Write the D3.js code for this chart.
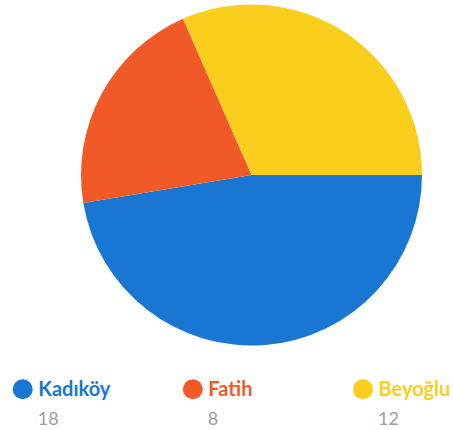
<!DOCTYPE html>
<html>
<head>
<meta charset="utf-8">
<script src="https://cdn.jsdelivr.net/npm/d3@7"></script>
<style>
  body { margin: 0; background: #fff; }
  svg { display: block; font-family: Lato, "Open Sans", sans-serif; }
</style>
</head>
<body>
<div id="chart"></div>
<script>
// data
var districts = ["Kadıköy", "Fatih", "Beyoğlu"];
var counts = [18, 8, 12];
var colors = ["#1976D2", "#F15A27", "#F9CE1D"];

var width = 453, height = 430;
var cx = 251.5, cy = 175, radius = 170.5;

var svg = d3.select("#chart")
  .append("svg")
    .attr("width", width)
    .attr("height", height);

var color = d3.scaleOrdinal()
  .domain(districts)
  .range(colors);

// slices start at 3 o'clock and go clockwise
var pie = d3.pie()
  .sort(null)
  .value(function(d) { return d.value; })
  .startAngle(Math.PI / 2)
  .endAngle(Math.PI / 2 + 2 * Math.PI);

var data = districts.map(function(name, i) { return {key: name, value: counts[i]}; });
var data_ready = pie(data);

var g = svg.append("g")
  .attr("transform", "translate(" + cx + "," + cy + ")");

g.selectAll("path")
  .data(data_ready)
  .enter()
  .append("path")
  .attr("d", d3.arc().innerRadius(0).outerRadius(radius))
  .attr("fill", function(d) { return color(d.data.key); });

// legend
var legendX = d3.scalePoint()
  .domain(districts)
  .range([22.7, 363])
  ;

var item = svg.selectAll(".legend")
  .data(data)
  .enter()
  .append("g")
  .attr("class", "legend")
  .attr("transform", function(d) { return "translate(" + legendX(d.key) + ",389.3)"; });

item.append("circle")
  .attr("r", 10)
  .attr("fill", function(d) { return color(d.key); });

item.append("text")
  .attr("x", 15.5)
  .attr("y", 7)
  .attr("font-size", "20px")
  .attr("font-weight", "bold")
  .attr("fill", function(d) { return color(d.key); })
  .text(function(d) { return d.key; });

item.append("text")
  .attr("x", 15)
  .attr("y", 36)
  .attr("font-size", "18px")
  .attr("fill", "#a0a0a0")
  .text(function(d) { return d.value; });
</script>
</body>
</html>
